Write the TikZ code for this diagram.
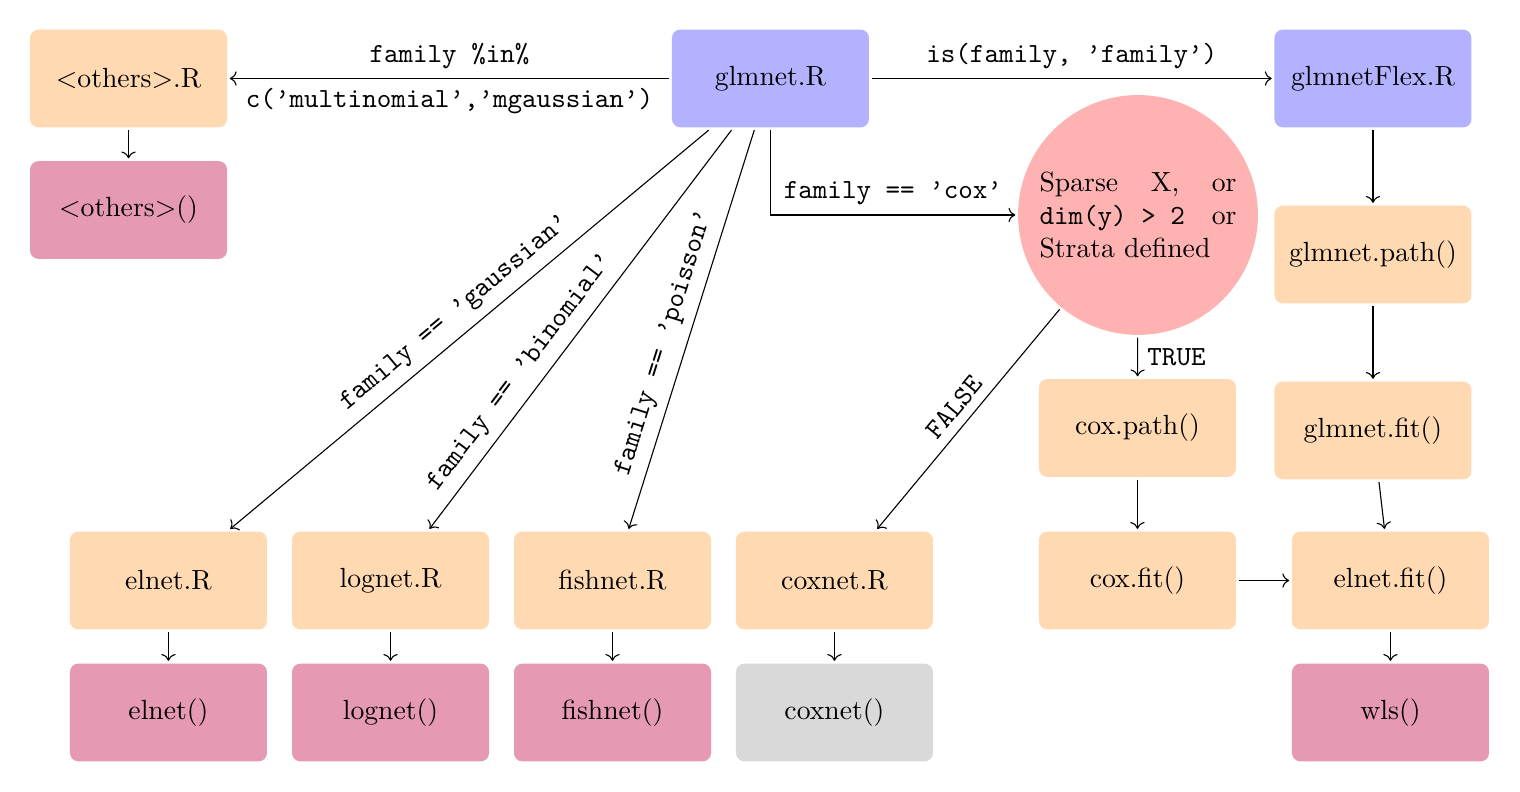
\documentclass[tikz,border=0pt]{standalone}
\usepackage{amsmath}
\usepackage{tikz}
\usetikzlibrary{positioning, calc, arrows.meta}

\begin{document}
\begin{tikzpicture}[
    box/.style={rounded corners=3pt, minimum width=2.5cm, minimum height=1.24cm, outer sep=1pt},
    entry/.style={box, fill=blue!30},
    rfile/.style={box, fill=orange!30},
    fortran/.style={box, fill=purple!40},
    nofort/.style={box, fill=gray!30},
    decide/.style={circle, fill=red!30, text width=2.5cm, align=justify, outer sep=1pt},
    lab/.style={font=\ttfamily}
]
    \useasboundingbox (0,0) rectangle (19.29,-10.05);

    % 入口
    \node[entry] (glmnet) at (9.778,-0.996) {glmnet.R};
    \node[entry] (flex) at (17.424,-0.996) {glmnetFlex.R};

    % 多変量
    \node[rfile] (others) at (1.631,-0.996) {<others>.R};
    \node[fortran] (othersf) at (1.631,-2.665) {<others>()};

    % 分岐
    \node[decide] (sparse) at (14.442,-2.728) {Sparse X, or \texttt{dim(y) > 2} or Strata defined};

    % 下の段
    \node[rfile] (elnet) at (2.138,-7.367) {elnet.R};
    \node[rfile] (lognet) at (4.956,-7.367) {lognet.R};
    \node[rfile] (fishnet) at (7.773,-7.367) {fishnet.R};
    \node[rfile] (coxnet) at (10.590,-7.367) {coxnet.R};
    \node[fortran] (elnetf) at (2.138,-9.042) {elnet()};
    \node[fortran] (lognetf) at (4.956,-9.042) {lognet()};
    \node[fortran] (fishnetf) at (7.773,-9.042) {fishnet()};
    \node[nofort] (coxnetf) at (10.590,-9.042) {coxnet()};

    % cox と Flex
    \node[rfile] (coxpath) at (14.435,-5.431) {cox.path()};
    \node[rfile] (coxfit) at (14.435,-7.367) {cox.fit()};
    \node[rfile] (path) at (17.424,-3.230) {glmnet.path()};
    \node[rfile] (fit) at (17.424,-5.463) {glmnet.fit()};
    \node[rfile] (elnetfit) at (17.646,-7.367) {elnet.fit()};
    \node[fortran] (wls) at (17.646,-9.042) {wls()};

    % 矢印
    \draw[->] (glmnet) -- node[lab, above] {family \%in\%} node[lab, below] {c(’multinomial’,’mgaussian’)} (others);
    \draw[->] (others) -- (othersf);
    \draw[->] (glmnet) -- node[lab, above] {is(family, ’family’)} (flex);
    \draw[->] (glmnet.south) |- node[lab, pos=0.75, above] {family == ’cox’} (sparse.west);
    \draw[->] (glmnet) -- node[lab, sloped, above, pos=0.5] {family == ’gaussian’} (elnet);
    \draw[->] (glmnet) -- node[lab, sloped, above, pos=0.64] {family == ’binomial’} (lognet);
    \draw[->] (glmnet) -- node[lab, sloped, above, pos=0.55] {family == ’poisson’} (fishnet);
    \draw[->] (sparse) -- node[lab, sloped, above] {FALSE} (coxnet);
    \draw[->] (sparse) -- node[lab, right] {TRUE} (coxpath);

    \draw[->] (elnet) -- (elnetf);
    \draw[->] (lognet) -- (lognetf);
    \draw[->] (fishnet) -- (fishnetf);
    \draw[->] (coxnet) -- (coxnetf);

    \draw[->] (coxpath) -- (coxfit);
    \draw[->] (coxfit) -- (elnetfit);
    \draw[->] (flex) -- (path);
    \draw[->] (path) -- (fit);
    \draw[->] (fit) -- (elnetfit);
    \draw[->] (elnetfit) -- (wls);

\end{tikzpicture}
\end{document}
